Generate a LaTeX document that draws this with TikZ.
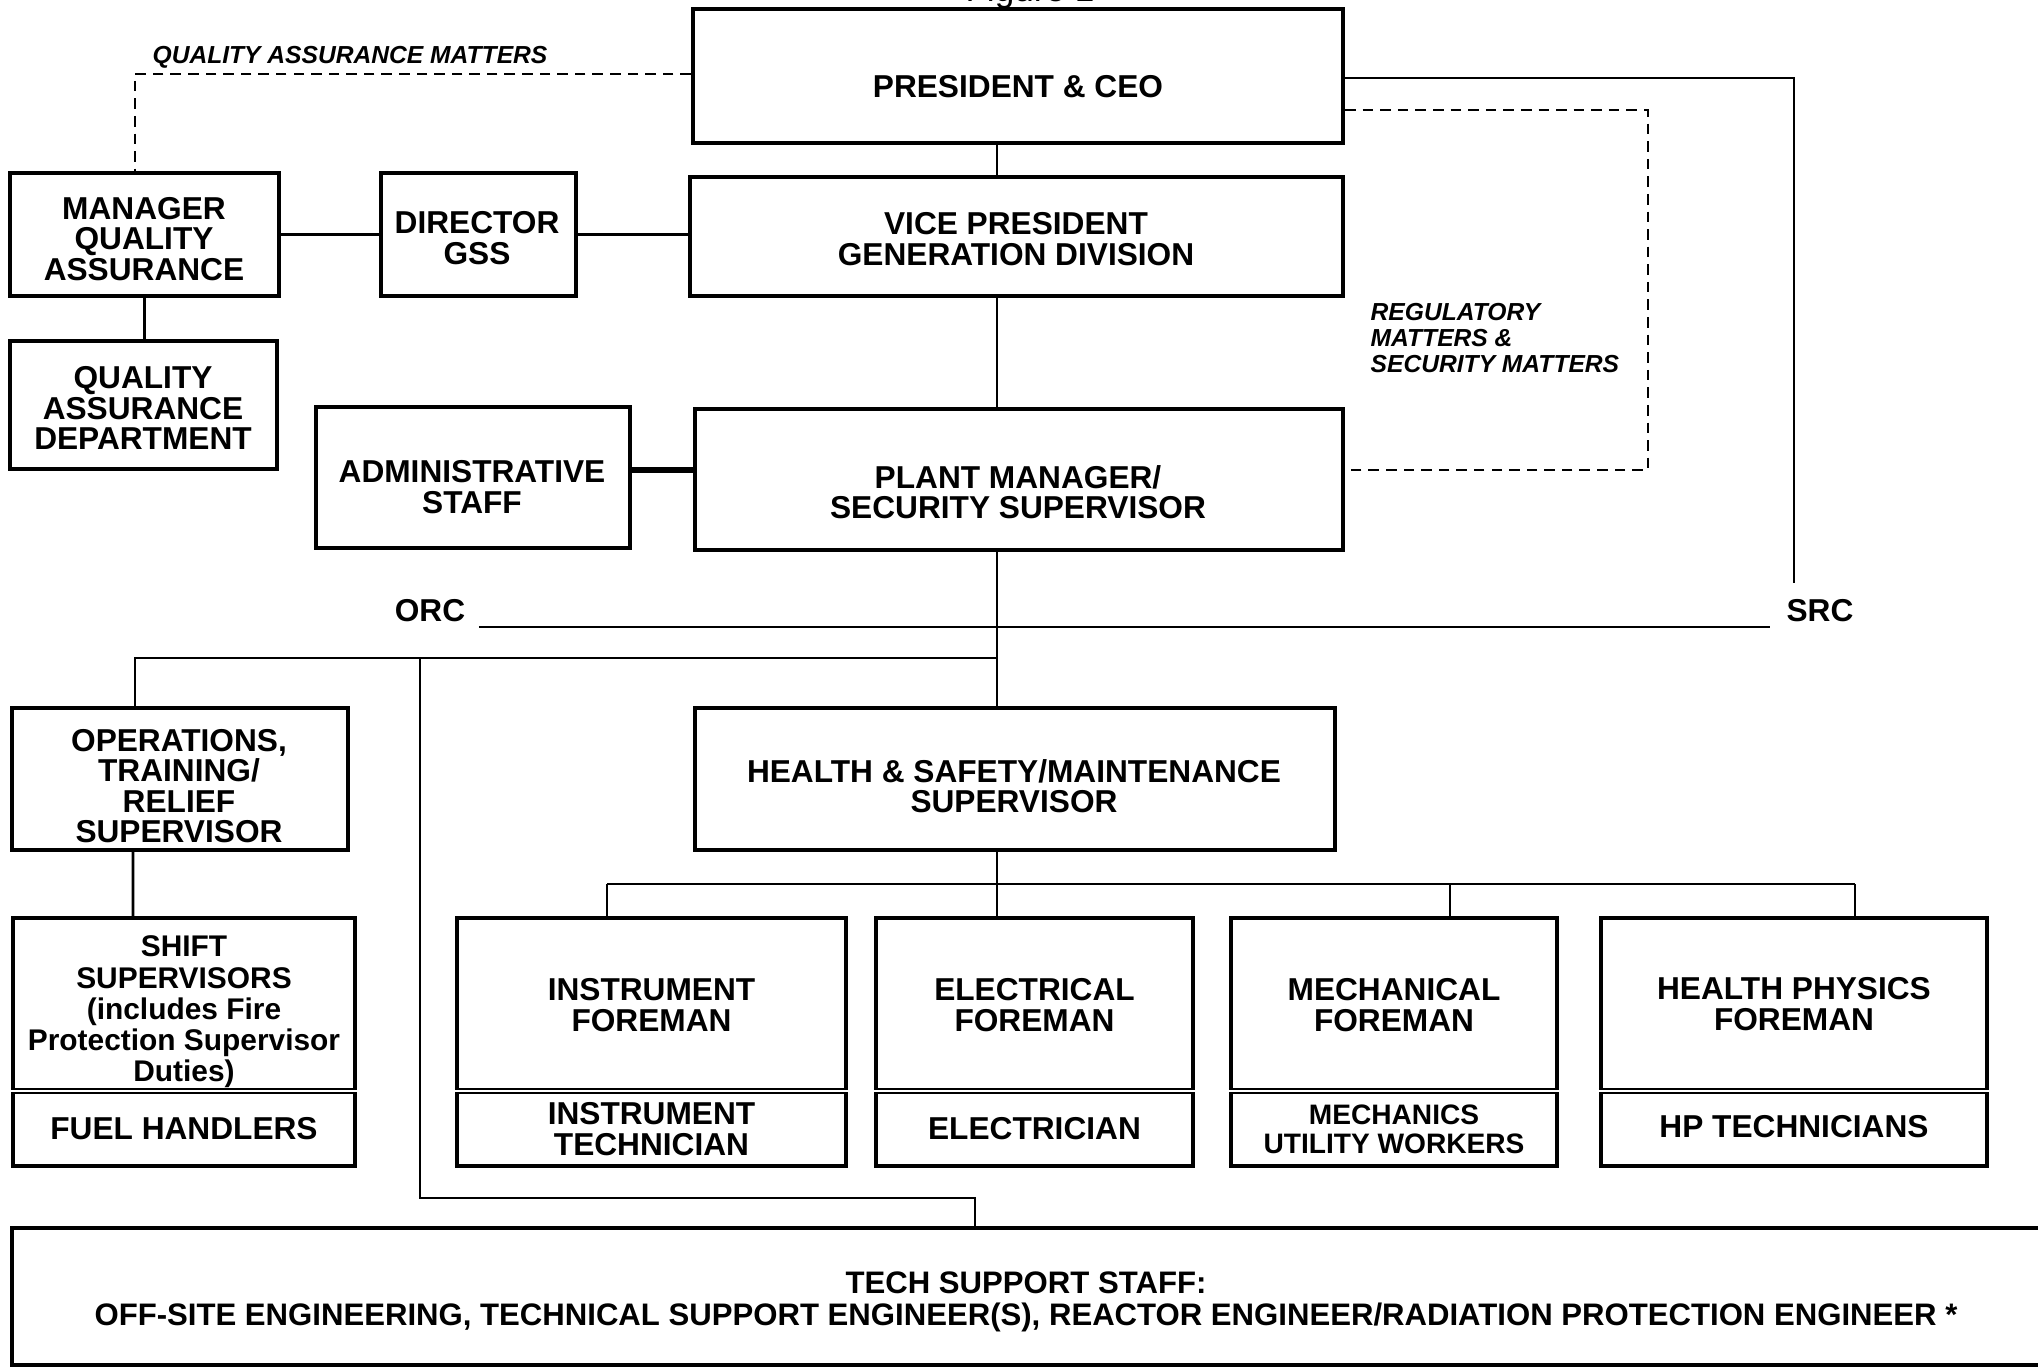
\documentclass[tikz,border=0pt]{standalone}
\usepackage{fontspec}
\setmainfont{Liberation Sans}
\usepackage{tikz}
\usetikzlibrary{calc}

\newcommand{\boxfont}{\fontsize{9}{8.7}\selectfont\bfseries}
\newcommand{\notefont}{\fontsize{7}{7.3}\selectfont\bfseries\itshape}

\begin{document}
\begin{tikzpicture}[x=0.01cm, y=-0.01cm,
    unit/.style={draw, line width=1.1pt, inner sep=0pt},
    caption/.style={align=center, font=\boxfont, inner sep=0pt},
    link/.style={line width=0.8pt},
    matters/.style={line width=0.8pt, dash pattern=on 3pt off 2pt},
    note/.style={align=left, font=\notefont, inner sep=0pt}]
  \useasboundingbox (0,0) rectangle (2038,1369);

  % titolo tagliato
  \node[anchor=base, font=\fontsize{10}{10}\selectfont] (fig) at (1030,1) {Figure 1};

  % vertice
  \node[unit, minimum width=6.5cm, minimum height=1.34cm] (pres) at (1018,76) {};
  \node[unit, minimum width=6.53cm, minimum height=1.19cm] (vp) at (1016.5,236.5) {};
  \node[unit, minimum width=2.69cm, minimum height=1.23cm] (mqa) at (144.5,234.5) {};
  \node[unit, minimum width=1.95cm, minimum height=1.23cm] (gss) at (478.5,234.5) {};
  \node[unit, minimum width=2.67cm, minimum height=1.28cm] (qad) at (143.5,405) {};
  \node[unit, minimum width=3.14cm, minimum height=1.41cm] (adm) at (473,477.5) {};
  \node[unit, minimum width=6.48cm, minimum height=1.41cm] (pm) at (1019,479.5) {};

  \node[caption] (prestext) at (1018,87) {PRESIDENT \& CEO};
  \node[caption] (vptext) at (1016,239) {VICE PRESIDENT\\GENERATION DIVISION};
  \node[caption] (mqatext) at (144,239) {MANAGER\\QUALITY\\ASSURANCE};
  \node[caption] (gsstext) at (477,238) {DIRECTOR\\GSS};
  \node[caption] (qadtext) at (143,408) {QUALITY\\ASSURANCE\\DEPARTMENT};
  \node[caption] (admtext) at (472,487) {ADMINISTRATIVE\\STAFF};
  \node[caption] (pmtext) at (1018,492) {PLANT MANAGER/\\SECURITY SUPERVISOR};

  % comitati
  \node[caption] (orc) at (430,611) {ORC};
  \node[caption] (src) at (1820,611) {SRC};

  % supervisori
  \node[unit, minimum width=3.36cm, minimum height=1.42cm] (ops) at (180,779) {};
  \node[unit, minimum width=6.4cm, minimum height=1.42cm] (hsm) at (1015,779) {};
  \node[caption] (opstext) at (179,786) {OPERATIONS,\\TRAINING/\\RELIEF\\SUPERVISOR};
  \node[caption] (hsmtext) at (1014,786) {HEALTH \& SAFETY/MAINTENANCE\\SUPERVISOR};

  % riquadri doppi
  \node[unit, minimum width=3.42cm, minimum height=2.48cm] (shift) at (184,1042) {};
  \node[unit, minimum width=3.89cm, minimum height=2.48cm] (instr) at (651.5,1042) {};
  \node[unit, minimum width=3.17cm, minimum height=2.48cm] (elec) at (1034.5,1042) {};
  \node[unit, minimum width=3.26cm, minimum height=2.48cm] (mech) at (1394,1042) {};
  \node[unit, minimum width=3.86cm, minimum height=2.48cm] (hp) at (1794,1042) {};
  \foreach \u in {shift, instr, elec, mech, hp}
    \draw[line width=0.6pt, double, double distance=0.5pt] (\u.west |- 0,1091) -- (\u.east |- 0,1091);

  \node[caption, font=\fontsize{8.5}{8.9}\selectfont\bfseries] (shifttop) at (184,1012) {SHIFT\\SUPERVISORS\\(includes Fire\\Protection Supervisor\\Duties)};
  \node[caption] (shiftbot) at (184,1129) {FUEL HANDLERS};
  \node[caption] (instrtop) at (651.5,1005) {INSTRUMENT\\FOREMAN};
  \node[caption] (instrbot) at (651.5,1129) {INSTRUMENT\\TECHNICIAN};
  \node[caption] (electop) at (1034.5,1005) {ELECTRICAL\\FOREMAN};
  \node[caption] (elecbot) at (1034.5,1129) {ELECTRICIAN};
  \node[caption] (mechtop) at (1394,1005) {MECHANICAL\\FOREMAN};
  \node[caption, font=\fontsize{8}{8.2}\selectfont\bfseries] (mechbot) at (1394,1129) {MECHANICS\\UTILITY WORKERS};
  \node[caption] (hptop) at (1794,1004) {HEALTH PHYSICS\\FOREMAN};
  \node[caption] (hpbot) at (1794,1127) {HP TECHNICIANS};

  % supporto tecnico
  \node[unit, minimum width=20.47cm, minimum height=1.37cm] (tech) at (1036.5,1296.5) {};
  \node[caption, font=\fontsize{8.85}{9}\selectfont\bfseries] (techtext) at (1026,1302) {TECH SUPPORT STAFF:\\OFF-SITE ENGINEERING, TECHNICAL SUPPORT ENGINEER(S), REACTOR ENGINEER/RADIATION PROTECTION ENGINEER *};

  % linea principale
  \coordinate (spine) at (997,0);
  \draw[link] (spine |- pres.south) -- (spine |- vp.north);
  \draw[link] (spine |- vp.south) -- (spine |- pm.north);
  \draw[link] (spine |- pm.south) -- (spine |- hsm.north);

  % collegamenti laterali
  \draw[link] (mqa) -- (gss);
  \draw[link] (gss.east) -- (gss.east -| vp.west);
  \draw[link] (mqa.south) -- (mqa.south |- qad.north);
  \draw[line width=1.6pt] (adm.east |- 0,470) -- (pm.west |- 0,470);

  % linee tratteggiate
  \coordinate (qacorner) at (135,74);
  \draw[matters] (qacorner -| pres.west) -- (qacorner) -- (qacorner |- mqa.north);
  \node[note] (qamatters) at (350,57) {QUALITY ASSURANCE MATTERS};
  \coordinate (regcorner) at (1648,110);
  \coordinate (regfoot) at (1648,470);
  \draw[matters] (regcorner -| pres.east) -- (regcorner) -- (regfoot) -- (regfoot -| pm.east);
  \node[note, anchor=north west] (regmatters) at (1370,303) {REGULATORY\\MATTERS \&\\SECURITY MATTERS};

  % SRC e ORC
  \coordinate (srccorner) at (1794,78);
  \draw[link, shorten >=0.16cm] (srccorner -| pres.east) -- (srccorner) -- (srccorner |- src.north);
  \draw[link] ([xshift=0.13cm, yshift=-0.04cm]orc.south east) -- ([xshift=-0.16cm, yshift=-0.04cm]src.south west);

  % ramo operazioni
  \coordinate (opsbranch) at (135,658);
  \draw[link] (spine |- opsbranch) -- (opsbranch) -- (opsbranch |- ops.north);
  \draw[link] ([xshift=-0.47cm]ops.south) -- ([xshift=-0.51cm]shift.north);
  \coordinate (techtap) at (420,658);
  \coordinate (techbend) at (975,1198);
  \draw[link] (techtap) -- (techtap |- techbend) -- (techbend) -- (techbend |- tech.north);

  % ramo capi squadra
  \coordinate (barL) at (607,884);
  \coordinate (barM) at (1450,884);
  \coordinate (barR) at (1855,884);
  \draw[link] (spine |- hsm.south) -- (spine |- barL);
  \draw[link] (barL) -- (barR);
  \draw[link] (barL) -- (barL |- instr.north);
  \draw[link] (spine |- barL) -- (spine |- elec.north);
  \draw[link] (barM) -- (barM |- mech.north);
  \draw[link] (barR) -- (barR |- hp.north);
\end{tikzpicture}
\end{document}
